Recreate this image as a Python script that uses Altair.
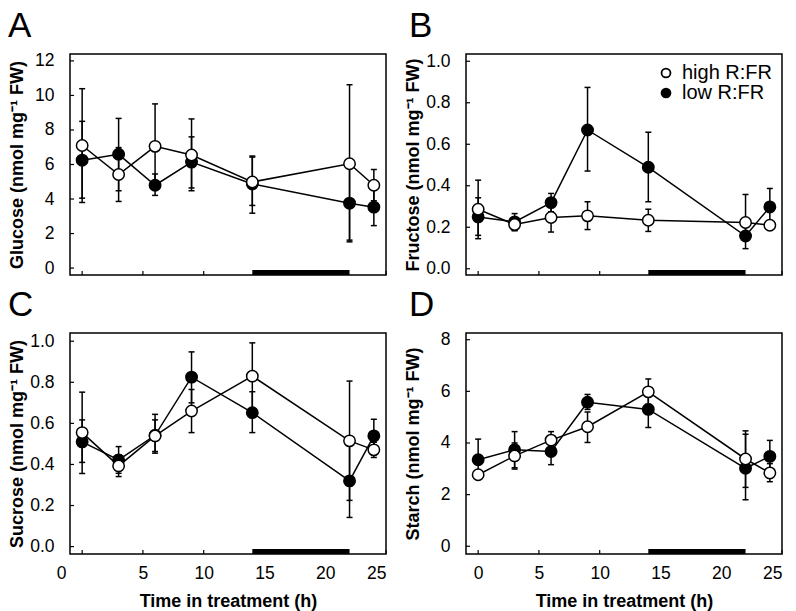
import altair as alt
import pandas as pd

# ---------------- data ----------------
times = [0, 3, 6, 9, 14, 22, 24]
series_names = ["high R:FR", "low R:FR"]

glucose_high = [7.10, 5.42, 7.05, 6.55, 4.99, 6.04, 4.80]
glucose_high_lo = [3.80, 3.86, 4.57, 4.48, 3.18, 1.62, 3.90]
glucose_high_hi = [10.39, 6.98, 9.51, 8.64, 6.49, 10.62, 5.71]
glucose_low = [6.25, 6.59, 4.80, 6.14, 4.87, 3.76, 3.53]
glucose_low_lo = [4.05, 4.48, 4.21, 4.64, 3.63, 1.52, 2.46]
glucose_low_hi = [8.50, 8.67, 5.45, 7.60, 6.43, 5.96, 4.60]

fructose_high = [0.287, 0.213, 0.247, 0.255, 0.234, 0.223, 0.210]
fructose_high_lo = [0.145, 0.183, 0.177, 0.189, 0.180, 0.160, 0.190]
fructose_high_hi = [0.427, 0.243, 0.317, 0.323, 0.287, 0.358, 0.230]
fructose_low = [0.250, 0.226, 0.319, 0.669, 0.489, 0.158, 0.298]
fructose_low_lo = [0.161, 0.186, 0.275, 0.471, 0.323, 0.097, 0.210]
fructose_low_hi = [0.342, 0.266, 0.363, 0.874, 0.658, 0.220, 0.387]

sucrose_high = [0.555, 0.393, 0.539, 0.660, 0.830, 0.515, 0.471]
sucrose_high_lo = [0.356, 0.341, 0.455, 0.555, 0.665, 0.225, 0.434]
sucrose_high_hi = [0.752, 0.445, 0.644, 0.765, 0.992, 0.806, 0.508]
sucrose_low = [0.510, 0.422, 0.542, 0.825, 0.652, 0.320, 0.539]
sucrose_low_lo = [0.410, 0.357, 0.463, 0.700, 0.555, 0.142, 0.460]
sucrose_low_hi = [0.617, 0.487, 0.617, 0.948, 0.754, 0.498, 0.620]

starch_high = [2.77, 3.50, 4.11, 4.63, 5.98, 3.38, 2.84]
starch_high_lo = [2.60, 2.99, 3.80, 4.02, 5.50, 2.28, 2.50]
starch_high_hi = [2.95, 4.00, 4.44, 5.20, 6.48, 4.47, 3.20]
starch_low = [3.35, 3.74, 3.67, 5.58, 5.30, 3.02, 3.48]
starch_low_lo = [2.60, 3.04, 3.16, 5.30, 4.60, 1.80, 2.85]
starch_low_hi = [4.15, 4.44, 4.20, 5.88, 6.00, 4.34, 4.10]

dark_start = [14]
dark_end = [22]

x_tick_values = [0, 5, 10, 15, 20, 25]
glucose_ticks = [0, 2, 4, 6, 8, 10, 12]
fructose_ticks = [0.0, 0.2, 0.4, 0.6, 0.8, 1.0]
sucrose_ticks = [0.0, 0.2, 0.4, 0.6, 0.8, 1.0]
starch_ticks = [0, 2, 4, 6, 8]

# ---------------- style ----------------
W, H = 316, 221
FONT = "Liberation Sans"
LW = 1.5


def make_df(high, high_lo, high_hi, low, low_lo, low_hi):
    rows = []
    for name, v, lo, hi in [("low R:FR", low, low_lo, low_hi),
                            ("high R:FR", high, high_lo, high_hi)]:
        for t, a, b, c in zip(times, v, lo, hi):
            rows.append({"t": t, "series": name, "value": a, "lo": b, "hi": c})
    return pd.DataFrame(rows)


def panel(letter, letter_dx, df, ydomain, yticks, yfmt, ytitle,
          bottom=False, legend=False, zero_shift=False):
    xscale = alt.Scale(domain=[-1, 25], nice=False, zero=False)
    yscale = alt.Scale(domain=ydomain, nice=False, zero=False)
    if bottom:
        axis_kw = dict(values=x_tick_values, title="Time in treatment (h)",
                       labelFontSize=17.5, labelPadding=10, titleFontSize=18,
                       titlePadding=11, labelFont=FONT, titleFont=FONT,
                       labelColor="black", titleColor="black",
                       labelFlush=False, labelOverlap=False,
                       labelAlign={"condition": {"test": "datum.value === 25",
                                                 "value": "right"},
                                   "value": "center"},
                       domain=False, ticks=False, grid=False)
        if zero_shift:
            axis_kw["labelOffset"] = {"condition": {"test": "datum.value === 0",
                                                    "value": -21}, "value": 0}
        xaxis = alt.Axis(**axis_kw)
    else:
        xaxis = None
    yaxis = alt.Axis(values=yticks, format=yfmt, title=ytitle,
                     labelFontSize=17.5, labelPadding=16, labelFont=FONT,
                     labelColor="black", titleColor="black",
                     labelFlush=False, labelOverlap=False,
                     titleFont=FONT, titleFontSize=18, titleFontWeight="bold",
                     titleAngle=270, titleBaseline="top", titleAlign="center",
                     titleX=-62, titleY=H / 2,
                     domain=False, ticks=False, grid=False)

    def X(f):
        return alt.X(f, type="quantitative", scale=xscale, axis=xaxis)

    def Y(f):
        return alt.Y(f, type="quantitative", scale=yscale, axis=yaxis)

    base = alt.Chart(df)
    rules = base.mark_rule(color="black", strokeWidth=LW).encode(
        x=X("t"), y=Y("lo"), y2=alt.Y2("hi"))
    cap_lo = base.mark_tick(orient="horizontal", color="black", size=6,
                            thickness=LW, opacity=1).encode(x=X("t"), y=Y("lo"))
    cap_hi = base.mark_tick(orient="horizontal", color="black", size=6,
                            thickness=LW, opacity=1).encode(x=X("t"), y=Y("hi"))
    line = base.mark_line(color="black", strokeWidth=LW).encode(
        x=X("t"), y=Y("value"), detail="series:N")
    if legend:
        leg = alt.Legend(title=None, orient="top-right", offset=9,
                         labelFont=FONT, labelFontSize=20, labelColor="black",
                         symbolSize=80, symbolStrokeColor="black",
                         symbolStrokeWidth=1.8, symbolType="circle",
                         symbolOpacity=1, rowPadding=0, labelOffset=6,
                         padding=0)
    else:
        leg = None
    points = base.mark_point(filled=True, size=130, stroke="black",
                             strokeWidth=LW, opacity=1).encode(
        x=X("t"), y=Y("value"),
        fill=alt.Fill("series:N",
                      scale=alt.Scale(domain=series_names,
                                      range=["white", "black"]),
                      legend=leg))
    ytk = alt.Chart(pd.DataFrame({"v": yticks})).mark_rule(
        color="black", strokeWidth=1.2).encode(
        y=Y("v"), x=alt.value(0), x2=alt.value(4))
    xtk = alt.Chart(pd.DataFrame({"v": x_tick_values})).mark_rule(
        color="black", strokeWidth=1.2).encode(
        x=X("v"), y=alt.value(H), y2=alt.value(H - 4))
    bar = alt.Chart(pd.DataFrame({"s": dark_start, "e": dark_end})).mark_rect(
        color="black").encode(
        x=X("s"), x2=alt.X2("e"), y=alt.value(H - 5), y2=alt.value(H))
    lab = alt.Chart(pd.DataFrame({"letter": [letter]})).mark_text(
        align="left", baseline="alphabetic", fontSize=35, font=FONT,
        color="black").encode(
        text="letter:N", x=alt.value(letter_dx), y=alt.value(-17))

    return alt.layer(rules, cap_lo, cap_hi, line, points, ytk, xtk, bar, lab).properties(
        width=W, height=H)


pA = panel("A", -62, make_df(glucose_high, glucose_high_lo, glucose_high_hi,
                             glucose_low, glucose_low_lo, glucose_low_hi),
           [-0.4, 12.4], glucose_ticks, "d", "Glucose (nmol mg\u207b\u00b9 FW)")
pB = panel("B", -57, make_df(fructose_high, fructose_high_lo, fructose_high_hi,
                             fructose_low, fructose_low_lo, fructose_low_hi),
           [-0.03, 1.035], fructose_ticks, ".1f", "Fructose (nmol mg\u207b\u00b9 FW)",
           legend=True)
pC = panel("C", -62, make_df(sucrose_high, sucrose_high_lo, sucrose_high_hi,
                             sucrose_low, sucrose_low_lo, sucrose_low_hi),
           [-0.036, 1.04], sucrose_ticks, ".1f", "Sucrose (nmol mg\u207b\u00b9 FW)",
           bottom=True, zero_shift=True)
pD = panel("D", -57, make_df(starch_high, starch_high_lo, starch_high_hi,
                             starch_low, starch_low_lo, starch_low_hi),
           [-0.3, 8.26], starch_ticks, "d", "Starch (nmol mg\u207b\u00b9 FW)",
           bottom=True)

chart = alt.concat(pA, pB, pC, pD, columns=2,
                   spacing={"row": 58, "column": 80},
                   bounds="flush").resolve_scale(
    x="independent", y="independent", fill="independent").resolve_legend(
    fill="independent").properties(
    padding={"left": -1, "top": 0, "right": 0, "bottom": 0},
    background="white"
).configure_view(stroke="black", strokeWidth=1.5)

chart.save("out.html", embed_options={"renderer": "svg", "actions": False})
